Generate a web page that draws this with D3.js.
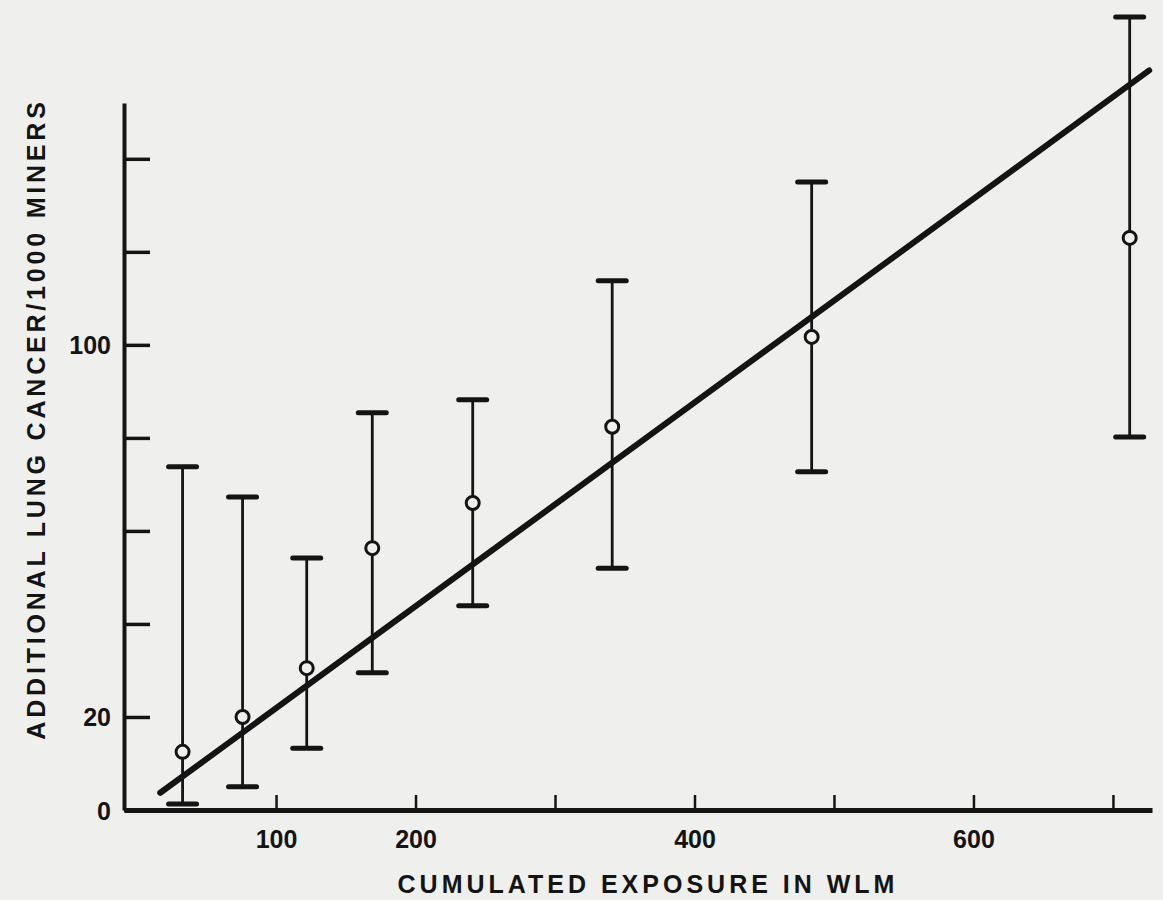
<!DOCTYPE html>
<html>
<head>
<meta charset="utf-8">
<script src="https://cdn.jsdelivr.net/npm/d3@7"></script>
<style>
  body { margin: 0; background: #efefed; }
  svg { display: block; }
  text { font-family: "Liberation Sans", Arial, sans-serif; fill: #141414; }
</style>
</head>
<body>
<script>
// Data
var exposure = [33, 76, 122, 169, 241, 341, 484, 712];
var cancerRate = [12.5, 20, 30.5, 56.3, 66, 82.4, 101.7, 123];
var upperLimit = [73.8, 67.3, 54.2, 85.4, 88.2, 113.8, 135, 170.5];
var lowerLimit = [1.3, 5, 13.3, 29.5, 43.9, 52, 72.7, 80.2];

// fitted line, ends as drawn
var fitX = [17, 726];
var fitY = [3.7, 159];

var xTickValues = [100, 200, 300, 400, 500, 600, 700];
var xTickLabels = ["100", "200", "", "400", "", "600", ""];
var yTickValues = [0, 20, 40, 60, 80, 100, 120, 140];
var yTickLabels = ["0", "20", "", "", "", "100", "", ""];

var svgWidth = 1163;
var svgHeight = 900;
var ink = "#141414";

var svg = d3.select("body")
  .append("svg")
  .attr("width", svgWidth)
  .attr("height", svgHeight);

svg.append("rect")
  .attr("width", svgWidth)
  .attr("height", svgHeight)
  .attr("fill", "#efefed");

// scales, ranges are where the axis lines sit in the scan
var xScale = d3.scaleLinear()
  .domain([-9, 728])
  .range([124, 1152]);

var yScale = d3.scaleLinear()
  .domain([0, 152])
  .range([810, 103]);

// y axis, ticks point into the plot
var leftAxis = d3.axisLeft(yScale)
  .tickValues(yTickValues)
  .tickFormat((d, i) => yTickLabels[i])
  .tickSizeInner(-26)
  .tickSizeOuter(0)
  .tickPadding(13);

var yAxisGroup = svg.append("g")
  .attr("transform", `translate(${xScale(-9)}, 0)`)
  .call(leftAxis);

yAxisGroup.select(".domain").attr("stroke", ink).attr("stroke-width", 4);
yAxisGroup.selectAll(".tick line").attr("stroke", ink).attr("stroke-width", 3.5);
yAxisGroup.selectAll(".tick text")
  .attr("font-size", 25)
  .attr("font-weight", "bold")
  .attr("fill", ink)
  .attr("dy", "0.36em");

// x axis, short ticks pointing up
var bottomAxis = d3.axisBottom(xScale)
  .tickValues(xTickValues)
  .tickFormat((d, i) => xTickLabels[i])
  .tickSizeInner(-15)
  .tickSizeOuter(0)
  .tickPadding(20);

var xAxisGroup = svg.append("g")
  .attr("transform", `translate(0, ${yScale(0)})`)
  .call(bottomAxis);

xAxisGroup.select(".domain").attr("stroke", ink).attr("stroke-width", 5);
xAxisGroup.selectAll(".tick line").attr("stroke", ink).attr("stroke-width", 2.5);
xAxisGroup.selectAll(".tick text")
  .attr("font-size", 25)
  .attr("font-weight", "bold")
  .attr("fill", ink);

// axis titles
svg.append("text")
  .attr("x", 648)
  .attr("y", 893)
  .attr("text-anchor", "middle")
  .attr("font-size", 25)
  .attr("font-weight", "bold")
  .attr("letter-spacing", 4)
  .text("CUMULATED EXPOSURE IN WLM");

svg.append("text")
  .attr("transform", "translate(45, 419) rotate(-90)")
  .attr("text-anchor", "middle")
  .attr("font-size", 25)
  .attr("font-weight", "bold")
  .attr("letter-spacing", 3.8)
  .text("ADDITIONAL LUNG CANCER/1000 MINERS");

// data table for the error bars
var points = exposure.map((d, i) => ({
  x: d, y: cancerRate[i], hi: upperLimit[i], lo: lowerLimit[i]
}));

var bars = svg.append("g");

bars.selectAll(".whisker")
  .data(points)
  .enter()
  .append("line")
  .attr("class", "whisker")
  .attr("x1", d => xScale(d.x))
  .attr("x2", d => xScale(d.x))
  .attr("y1", d => yScale(d.hi))
  .attr("y2", d => yScale(d.lo))
  .attr("stroke", ink)
  .attr("stroke-width", 2.8);

bars.selectAll(".capTop")
  .data(points)
  .enter()
  .append("line")
  .attr("class", "capTop")
  .attr("x1", d => xScale(d.x) - 14)
  .attr("x2", d => xScale(d.x) + 14)
  .attr("y1", d => yScale(d.hi))
  .attr("y2", d => yScale(d.hi))
  .attr("stroke", ink)
  .attr("stroke-width", 5)
  .attr("stroke-linecap", "round");

bars.selectAll(".capBottom")
  .data(points)
  .enter()
  .append("line")
  .attr("class", "capBottom")
  .attr("x1", d => xScale(d.x) - 14)
  .attr("x2", d => xScale(d.x) + 14)
  .attr("y1", d => yScale(d.lo))
  .attr("y2", d => yScale(d.lo))
  .attr("stroke", ink)
  .attr("stroke-width", 5)
  .attr("stroke-linecap", "round");

// regression line
var fitLine = d3.line()
  .x(d => xScale(d[0]))
  .y(d => yScale(d[1]));

svg.append("path")
  .datum(fitX.map((d, i) => [d, fitY[i]]))
  .attr("d", fitLine)
  .attr("fill", "none")
  .attr("stroke", ink)
  .attr("stroke-width", 6)
  .attr("stroke-linecap", "round");

// open circles
svg.selectAll(".dot")
  .data(points)
  .enter()
  .append("circle")
  .attr("class", "dot")
  .attr("cx", d => xScale(d.x))
  .attr("cy", d => yScale(d.y))
  .attr("r", 6.5)
  .attr("fill", "#efefed")
  .attr("stroke", ink)
  .attr("stroke-width", 3);
</script>
</body>
</html>
